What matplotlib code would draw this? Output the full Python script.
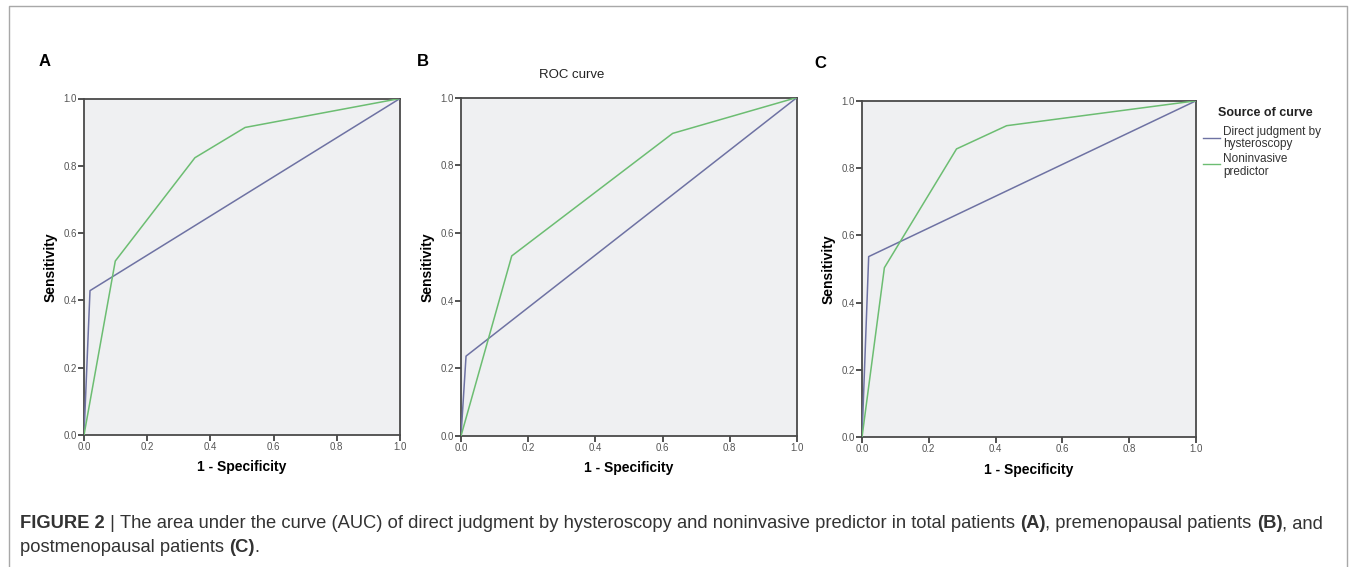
import matplotlib
matplotlib.use("Agg")
import matplotlib.pyplot as plt
from matplotlib.lines import Line2D

# ---- data ----
panel_letters = ["A", "B", "C"]
hyst_x_A = [0.0, 0.019, 1.0]
hyst_y_A = [0.0, 0.429, 1.0]
nonin_x_A = [0.0, 0.099, 0.351, 0.51, 1.0]
nonin_y_A = [0.0, 0.517, 0.824, 0.914, 1.0]

hyst_x_B = [0.0, 0.015, 1.0]
hyst_y_B = [0.0, 0.236, 1.0]
nonin_x_B = [0.0, 0.151, 0.63, 1.0]
nonin_y_B = [0.0, 0.532, 0.894, 1.0]

hyst_x_C = [0.0, 0.02, 1.0]
hyst_y_C = [0.0, 0.537, 1.0]
nonin_x_C = [0.0, 0.067, 0.283, 0.433, 1.0]
nonin_y_C = [0.0, 0.504, 0.857, 0.926, 1.0]

ticks = [0.0, 0.2, 0.4, 0.6, 0.8, 1.0]
tick_labels = ["0.0", "0.2", "0.4", "0.6", "0.8", "1.0"]
series_names = ["Direct judgment by\nhysteroscopy", "Noninvasive\npredictor"]
x_label = "1 - Specificity"
y_label = "Sensitivity"
title_B = "ROC curve"
legend_title = "Source of curve"

W, H = 1355, 567
fig = plt.figure(figsize=(W / 100, H / 100), dpi=100)
plt.rcParams['font.family'] = ['Liberation Sans', 'DejaVu Sans']

def fx(px):
    return px / W

def fy(py):
    return 1 - py / H

BLUE = "#6e72a3"
GREEN = "#6cbd72"
BG = "#eff0f2"
FRAME = "#4a4a4a"

# outer border
border = Line2D([fx(9), fx(9), fx(1347), fx(1347)], [0, fy(6), fy(6), 0],
                transform=fig.transFigure, color="#a8a8a8", lw=1.0)
fig.add_artist(border)

panels = [
    (84, 98.5, 400, 435, hyst_x_A, hyst_y_A, nonin_x_A, nonin_y_A),
    (461, 97.5, 797, 436, hyst_x_B, hyst_y_B, nonin_x_B, nonin_y_B),
    (862, 100.8, 1196, 437.3, hyst_x_C, hyst_y_C, nonin_x_C, nonin_y_C),
]

axes = []
for (l, t, r, b, hx, hy, nx, ny) in panels:
    ax = fig.add_axes([fx(l), fy(b), (r - l) / W, (b - t) / H])
    ax.set_facecolor(BG)
    ax.plot(hx, hy, color=BLUE, lw=1.1, zorder=3)
    ax.plot(nx, ny, color=GREEN, lw=1.1, zorder=3)
    ax.set_xlim(0, 1)
    ax.set_ylim(0, 1)
    ax.set_xticks(ticks)
    ax.set_yticks(ticks)
    ax.set_xticklabels(tick_labels)
    ax.set_yticklabels(tick_labels)
    ax.tick_params(axis="both", direction="out", length=4, width=1.2,
                   color="#333333", labelsize=7, labelcolor="#555555", pad=1)
    for s in ax.spines.values():
        s.set_color(FRAME)
        s.set_linewidth(1.3)
    ax.set_xlabel(x_label, fontsize=10, fontweight="bold", labelpad=6)
    ax.set_ylabel(y_label, fontsize=10, fontweight="bold", labelpad=4)
    axes.append(ax)

# panel letters
for letter, (px, py) in zip(panel_letters, [(45, 62), (423, 62), (820, 64)]):
    fig.text(fx(px), fy(py), letter, fontsize=12, fontweight="bold",
             ha="center", va="center")

# ROC curve title for panel B
fig.text(fx(572), fy(75), title_B, fontsize=9.5, ha="center", va="center",
         color="#222222")

# legend for panel C
fig.text(fx(1218), fy(113), legend_title, fontsize=9, fontweight="bold",
         ha="left", va="center", color="#222222")
leg_lines_y = [137.5, 163.5]
leg_text_y = [137.5, 165.5]
for name, col, ly, ty in zip(series_names, [BLUE, GREEN], leg_lines_y, leg_text_y):
    fig.add_artist(Line2D([fx(1203), fx(1220)], [fy(ly), fy(ly)],
                          transform=fig.transFigure, color=col, lw=1.0))
    fig.text(fx(1223), fy(ty), name, fontsize=8.5, ha="left", va="center",
             color="#333333", linespacing=1.0)

# caption with mixed bold segments
cap_family = ['Liberation Sans', 'DejaVu Sans']
line1 = [("FIGURE 2", True), (" | ", False),
         ("The area under the curve (AUC) of direct judgment by hysteroscopy and noninvasive predictor in total patients ", False),
         ("(A)", True), (", premenopausal patients ", False), ("(B)", True), (", and", False)]
line2 = [("postmenopausal patients ", False), ("(C)", True), (".", False)]

fig.canvas.draw()
renderer = fig.canvas.get_renderer()

# find font size so that line 1 spans the reference width
def line_width(segs, size):
    total = 0
    tmp = []
    for txt, bold in segs:
        t = fig.text(0, 0, txt, fontsize=size, family=cap_family,
                     fontweight="bold" if bold else "normal")
        total += t.get_window_extent(renderer=renderer).width
        tmp.append(t)
    for t in tmp:
        t.remove()
    return total

base = 10.5
w0 = line_width(line1, base)
cap_size = base * 1318 / w0

for segs, py in [(line1, 524), (line2, 548)]:
    x = fx(20)
    for txt, bold in segs:
        t = fig.text(x, fy(py), txt, fontsize=cap_size, family=cap_family,
                     fontweight="bold" if bold else "normal",
                     ha="left", va="center", color="#333333")
        bb = t.get_window_extent(renderer=renderer)
        x += bb.width / W

fig.savefig("out.png", dpi=100)
